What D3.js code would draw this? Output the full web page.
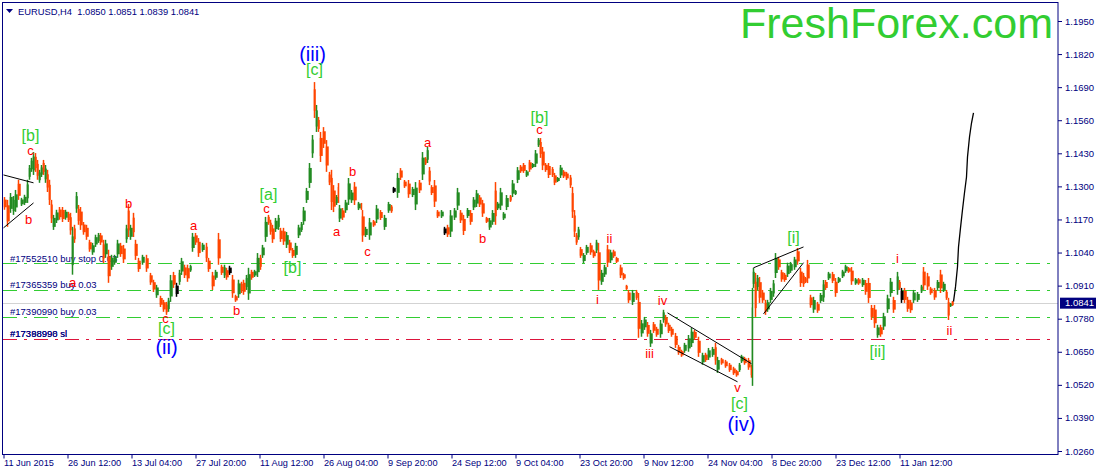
<!DOCTYPE html>
<html>
<head>
<meta charset="utf-8">
<title>EURUSD,H4</title>
<script src="https://cdn.jsdelivr.net/npm/d3@7"></script>
<style>
body { margin: 0; background: #fff; }
text { font-family: "Liberation Sans", sans-serif; }
</style>
</head>
<body>
<script>
// prices are in pips (1 pip = 0.0001)
var barNo = [
4,7,10,13,15,18,21,24,27,29,31,33,35,37,39,41,43,45,47,49,
51,53,56,59,62,65,68,70,72,74,76,78,80,83,86,89,92,95,98,100,
103,105,108,111,114,117,120,123,126,128,130,133,135,138,142,146,150,153,156,160,
163,166,168,170,173,176,179,181,184,187,190,192,195,198,202,206,208,212,215,218,
221,224,226,229,232,235,238,241,243,246,248,251,254,257,260,262,265,268,270,272,
275,278,280,283,286,289,292,295,298,301,303,306,309,312,314,316,318,320,323,326,
329,331,333,336,338,339,342,345,348,351,354,358,361,362,365,369,373,376,380,384,
388,391,393,397,400,404,408,412,415,419,422,425,427,429,431,434,437,441,444,447,
450,454,457,460,463,467,470,473,476,479,482,486,489,492,495,497,500,503,506,510,
512,515,517,520,523,526,529,532,535,538,540,542,545,548,552,554,557,560,563,566,
570,572,574,576,578,580,583,586,590,593,596,598,601,604,607,610,613,616,620,623,
626,628,632,636,638,641,644,647,650,653,656,660,663,665,668,671,675,678,681,684,
688,691,694,698,702,705,708,712,715,717,721,725,729,733,736,739,741,744,748,751,
752,753,755,757,759,762,765,767,770,773,775,778,781,784,787,790,794,797,800,803,
805,807,810,813,817,820,823,825,828,832,835,838,842,845,848,851,855,858,862,865,
868,871,874,877,880,883,887,890,893,897,899,901,904,907,910,913,917,921,923,927,
930,934,937,940,943,946,948,950,952];
var highs = [
11258,11247,11274,11262,11286,11326,11255,11267,11326,11384,11412,11435,11431,11404,11365,11384,11404,11384,11365,11326,
11247,11188,11208,11219,11219,11208,11200,11196,11141,11149,11278,11227,11219,11160,11149,11090,11078,11110,11117,11117,
11090,11090,11051,11031,11031,11090,11078,11070,11149,11231,11149,11196,11090,11019,11031,11031,10960,10933,10913,10870,
10854,10846,10862,10952,10964,10921,10972,11019,10992,10992,10992,11117,11117,11097,11078,11078,11019,10964,10972,11117,
10992,10992,10980,10988,10952,10874,10933,10925,10933,10952,10980,10972,10972,11038,11031,11070,11180,11188,11169,11149,
11176,11188,11137,11137,11121,11090,11058,11078,11149,11160,11219,11294,11392,11502,11710,11620,11573,11514,11533,11482,
11357,11365,11305,11266,11313,11227,11215,11247,11333,11286,11317,11239,11235,11207,11141,11176,11168,11227,11207,11188,
11239,11227,11298,11353,11372,11325,11325,11298,11317,11325,11435,11415,11455,11376,11305,11325,11207,11207,11141,11149,
11207,11215,11294,11207,11188,11215,11207,11258,11286,11266,11247,11180,11176,11207,11317,11239,11294,11199,11266,11266,
11325,11286,11376,11384,11392,11364,11404,11392,11443,11490,11490,11455,11392,11392,11376,11353,11337,11384,11364,11357,
11345,11298,11207,11117,11141,11062,11038,11070,11078,11051,11090,11078,10972,10992,11070,11051,11051,11023,10992,10960,
10913,10893,10893,10893,10881,10775,10787,10767,10736,10767,10748,10775,10815,10795,10764,10748,10724,10677,10658,10685,
10716,10744,10736,10709,10646,10646,10665,10669,10685,10630,10626,10618,10606,10591,10579,10606,10638,10630,10626,10599,
10901,10980,10960,10952,10944,10893,10854,10854,10901,10932,11038,11023,10972,10960,11000,11003,11023,11058,10980,10960,
10944,11011,10874,10866,10846,10881,10932,10932,10964,10964,10940,10944,10972,10992,10983,10983,10940,10940,10940,10932,
10940,10834,10834,10756,10756,10803,10874,10940,10866,10964,10932,10901,10901,10866,10854,10893,10885,10913,10983,10960,
10905,10901,10932,10972,10925,10893,10862,10842,10850];
var lows = [
11208,11141,11196,11188,11200,11247,11223,11227,11235,11326,11357,11345,11357,11326,11314,11337,11345,11314,11278,11227,
11156,11129,11156,11169,11160,11169,11160,11110,10953,11078,11196,11149,11129,11110,11090,11043,11031,11062,11078,11070,
10999,11019,10921,10972,10992,11019,11023,10999,11078,11101,11090,11101,11011,10964,10992,10964,10913,10885,10862,10826,
10807,10795,10807,10846,10901,10866,10913,10952,10940,10925,10964,11043,11070,11023,11043,11003,10964,10893,10933,10992,
10952,10940,10933,10952,10862,10846,10862,10881,10874,10893,10854,10933,10944,10944,10972,11019,11082,11149,11110,11078,
11121,11129,11082,11070,11058,11038,11019,11019,11097,11121,11149,11235,11294,11412,11569,11514,11514,11396,11451,11357,
11305,11207,11199,11227,11235,11160,11168,11196,11227,11235,11227,11207,11207,11082,11101,11090,11141,11156,11168,11129,
11196,11196,11274,11255,11325,11294,11255,11258,11207,11274,11325,11384,11392,11305,11266,11219,11176,11176,11109,11101,
11101,11168,11207,11156,11109,11176,11149,11207,11219,11219,11180,11156,11129,11149,11149,11207,11207,11168,11207,11239,
11258,11266,11313,11353,11353,11337,11357,11372,11376,11455,11412,11364,11357,11333,11337,11305,11317,11333,11333,11325,
11294,11176,11101,11070,11090,11019,10999,11031,11031,11019,11038,10893,10913,10944,10983,10999,11019,10999,10940,10933,
10893,10842,10834,10854,10705,10709,10736,10709,10669,10724,10709,10705,10764,10748,10724,10709,10665,10638,10630,10646,
10650,10669,10697,10630,10599,10610,10618,10630,10599,10567,10599,10587,10571,10559,10552,10571,10606,10599,10579,10548,
10516,10901,10787,10893,10842,10842,10795,10807,10842,10866,10940,10972,10925,10925,10944,10960,10972,10992,10905,10905,
10920,10920,10823,10803,10803,10842,10846,10893,10932,10920,10866,10920,10940,10960,10960,10913,10913,10913,10905,10874,
10842,10775,10744,10705,10709,10736,10803,10866,10803,10874,10893,10842,10842,10807,10803,10842,10846,10881,10893,10893,
10874,10854,10893,10881,10885,10854,10775,10826,10830];
// g = up bar, o = down bar, k = doji
var dirs = "oogggoggggggooggogoo" +
"oggoogoogogooooogggo" +
"ogogggoogogooogooogo" +
"ooggokggooggoogooogo" +
"ogokoogooggoggoggooo" +
"ggoogoogggggggogoooo" +
"ooogogogggogooggogog" +
"gokgoooggogogoooogko" +
"gggoogoggoooggoggggo" +
"gggoogogggooooooggoo" +
"oooogoggoogoggogoooo" +
"oogooggogooggoooooog" +
"ggoogoggogoooooggooo" +
"ggogoooggggooogggooo" +
"ooogoggogoogggoogogo" +
"ooogogggogokooogggoo" +
"oogogoogo";

var dateBars = [3,67,131,195,259,323,387,451,515,579,643,707,771,835,899];
var dateLabels = ["11 Jun 2015","26 Jun 12:00","13 Jul 04:00","27 Jul 20:00","11 Aug 12:00","26 Aug 04:00","9 Sep 20:00","24 Sep 12:00","9 Oct 04:00","23 Oct 20:00","9 Nov 12:00","24 Nov 04:00","8 Dec 20:00","23 Dec 12:00","11 Jan 12:00"];
var priceTicks = [1.1950,1.1820,1.1690,1.1560,1.1430,1.1300,1.1170,1.1040,1.0910,1.0780,1.0650,1.0520,1.0390,1.0260];
var lastPrice = 1.0841;

var orderPrices = [10995,10891,10786,10699];
var orderColors = ["#32cd32","#32cd32","#32cd32","#dc143c"];
var orderTexts = ["#17552510 buy stop 0.03","#17365359 buy 0.03","#17390990 buy 0.03","#17388998 sl","#17398990 sl"];
var orderTextPrices = [10995,10891,10786,10699,10699];

// trend lines: bar1, price1, bar2, price2
var trendLines = [
	[3,11345,33,11314],
	[3,11137,33,11235],
	[667,10803,751,10603],
	[669,10670,737,10532],
	[753,10980,803,11062],
	[763,10799,803,11000]
];
var forecastBars = [953,955,957,958,960,962,964,966,967,969,971,973];
var forecastPrices = [10847,10905,10984,11062,11137,11208,11275,11337,11416,11494,11549,11589];

var waveTexts = ["[b]","c","b","b","a","a","[a]","c","a","b","c","(iii)","[c]","a","b","[b]","c","ii","i","iv","iii","v","[c]","(iv)","[i]","i","ii","[ii]","c","[c]","(ii)","b","[b]"];
var waveBars = [30,30,28,128,72,193,268,266,336,352,367,312,314,427,482,539,539,609,597,662,649,737,739,741,793,897,949,877,165,166,166,236,292];
var wavePrices = [11502,11443,11169,11231,10921,11145,11270,11215,11121,11357,11043,11820,11761,11474,11094,11573,11522,11097,10854,10850,10642,10508,10449,10367,11101,11015,10732,10650,10779,10740,10669,10811,10980];
var waveLevels = "grrrrrgrrrrbgrrgrrrrrrgbgrrgrgbrg";

var w = 1098;
var h = 475;
var navy = "#000080";
var barColors = { g: "#228b22", o: "#ff4500", k: "#000000" };
var waveColors = { r: "#ff0000", g: "#32cd32", b: "#0000ff" };
var waveSizes = { r: 13, g: 16, b: 20 };

var x = d3.scaleLinear().domain([3, 1058]).range([3.5, 1058.5]);
var y = d3.scaleLinear().domain([1.0260, 1.1950]).range([451, 21]);
function py(pips) { return y(pips / 10000); }
// puts a horizontal line on a whole pixel row
function snap(v) { return Math.floor(v) + 0.5; }
// width of a candle body, up to the next bar
function bodyWidth(i) {
	var gap = i < barNo.length - 1 ? x(barNo[i + 1]) - x(barNo[i]) : 2;
	return Math.min(gap, 3);
}

var svg = d3.select("body")
			.append("svg")
			.attr("width", w)
			.attr("height", h)
			.style("display", "block");

// order labels sit under the bars
svg.selectAll("text.order")
   .data(orderTexts)
   .enter()
   .append("text")
   .attr("class", "order")
   .attr("x", 10)
   .attr("y", function(d, i) { return py(orderTextPrices[i]) - 2; })
   .attr("font-size", "9.5px")
   .attr("fill", navy)
   .text(function(d) { return d; });

svg.selectAll("line.order")
   .data(orderPrices)
   .enter()
   .append("line")
   .attr("class", "order")
   .attr("x1", 3)
   .attr("x2", 1053)
   .attr("y1", function(d) { return snap(py(d)); })
   .attr("y2", function(d) { return snap(py(d)); })
   .attr("stroke", function(d, i) { return orderColors[i]; })
   .attr("stroke-width", 1)
   .attr("stroke-dasharray", "14,7,3,7");

svg.append("line")
   .attr("x1", 3)
   .attr("x2", 1058)
   .attr("y1", snap(y(lastPrice)))
   .attr("y2", snap(y(lastPrice)))
   .attr("stroke", "#d3d3d3")
   .attr("stroke-width", 1);

// wicks
svg.selectAll("line.bar")
   .data(barNo)
   .enter()
   .append("line")
   .attr("class", "bar")
   .attr("x1", function(d) { return x(d); })
   .attr("x2", function(d) { return x(d); })
   .attr("y1", function(d, i) { return py(highs[i]); })
   .attr("y2", function(d, i) { return py(lows[i]); })
   .attr("stroke", function(d, i) { return barColors[dirs[i]]; })
   .attr("stroke-width", 1.5);

// bodies take the middle of each bar's range
svg.selectAll("rect.body")
   .data(barNo)
   .enter()
   .append("rect")
   .attr("class", "body")
   .attr("x", function(d, i) { return x(d) - 0.75; })
   .attr("width", function(d, i) { return bodyWidth(i); })
   .attr("y", function(d, i) { return py(highs[i]) + (py(lows[i]) - py(highs[i])) * 0.2; })
   .attr("height", function(d, i) { return (py(lows[i]) - py(highs[i])) * 0.6; })
   .attr("fill", function(d, i) { return barColors[dirs[i]]; });

svg.selectAll("line.trend")
   .data(trendLines)
   .enter()
   .append("line")
   .attr("class", "trend")
   .attr("x1", function(d) { return x(d[0]); })
   .attr("y1", function(d) { return py(d[1]); })
   .attr("x2", function(d) { return x(d[2]); })
   .attr("y2", function(d) { return py(d[3]); })
   .attr("stroke", "#000")
   .attr("stroke-width", 1);

var forecastLine = d3.line()
	.x(function(d) { return x(d); })
	.y(function(d, i) { return py(forecastPrices[i]); });

svg.append("path")
   .attr("d", forecastLine(forecastBars))
   .attr("fill", "none")
   .attr("stroke", "#000")
   .attr("stroke-width", 1.3);

svg.selectAll("text.wave")
   .data(waveTexts)
   .enter()
   .append("text")
   .attr("class", "wave")
   .attr("text-anchor", "middle")
   .attr("dy", "0.35em")
   .attr("x", function(d, i) { return x(waveBars[i]); })
   .attr("y", function(d, i) { return py(wavePrices[i]); })
   .attr("font-size", function(d, i) { return waveSizes[waveLevels[i]] + "px"; })
   .attr("fill", function(d, i) { return waveColors[waveLevels[i]]; })
   .text(function(d) { return d; });

// frame
svg.append("rect")
   .attr("x", 2.5)
   .attr("y", 2.5)
   .attr("width", 1055.5)
   .attr("height", 452)
   .attr("fill", "none")
   .attr("stroke", navy)
   .attr("stroke-width", 1);

var yAxis = d3.axisRight(y)
	.tickValues(priceTicks)
	.tickFormat(d3.format(".4f"))
	.tickSize(4)
	.tickPadding(3);

var yAxisG = svg.append("g")
	.attr("transform", "translate(1058,0)")
	.call(yAxis);
yAxisG.select(".domain").remove();
yAxisG.selectAll("line").attr("stroke", navy);
yAxisG.selectAll("text").attr("fill", navy).style("font-size", "9.5px").style("font-family", '"Liberation Sans", sans-serif');

var xAxis = d3.axisBottom(x)
	.tickValues(dateBars)
	.tickFormat(function(d, i) { return dateLabels[i]; })
	.tickSize(4)
	.tickPadding(1);

var xAxisG = svg.append("g")
	.attr("transform", "translate(0,454.5)")
	.call(xAxis);
xAxisG.select(".domain").remove();
xAxisG.selectAll("line").attr("stroke", navy);
xAxisG.selectAll("text")
	.attr("fill", navy)
	.attr("text-anchor", "start")
	.style("font-size", "9.2px")
	.style("font-family", '"Liberation Sans", sans-serif');

// last price box
svg.append("rect")
   .attr("x", 1060)
   .attr("y", y(lastPrice) - 5.5)
   .attr("width", 36)
   .attr("height", 11)
   .attr("fill", navy);

svg.append("text")
   .attr("x", 1065)
   .attr("y", y(lastPrice))
   .attr("dy", "0.35em")
   .attr("font-size", "9.5px")
   .attr("fill", "#fff")
   .text(d3.format(".4f")(lastPrice));

// header
svg.append("path")
   .attr("d", d3.line()([[6, 9], [13, 9], [9.5, 13]]) + "Z")
   .attr("fill", navy);

svg.append("text")
   .attr("x", 18)
   .attr("y", 14.5)
   .attr("font-size", "9.35px")
   .attr("fill", navy)
   .attr("xml:space", "preserve")
   .text("EURUSD,H4  1.0850 1.0851 1.0839 1.0841");

svg.append("text")
   .attr("x", 740)
   .attr("y", 38)
   .attr("font-size", "43px")
   .attr("fill", "#32cd32")
   .text("FreshForex.com");
</script>
</body>
</html>
